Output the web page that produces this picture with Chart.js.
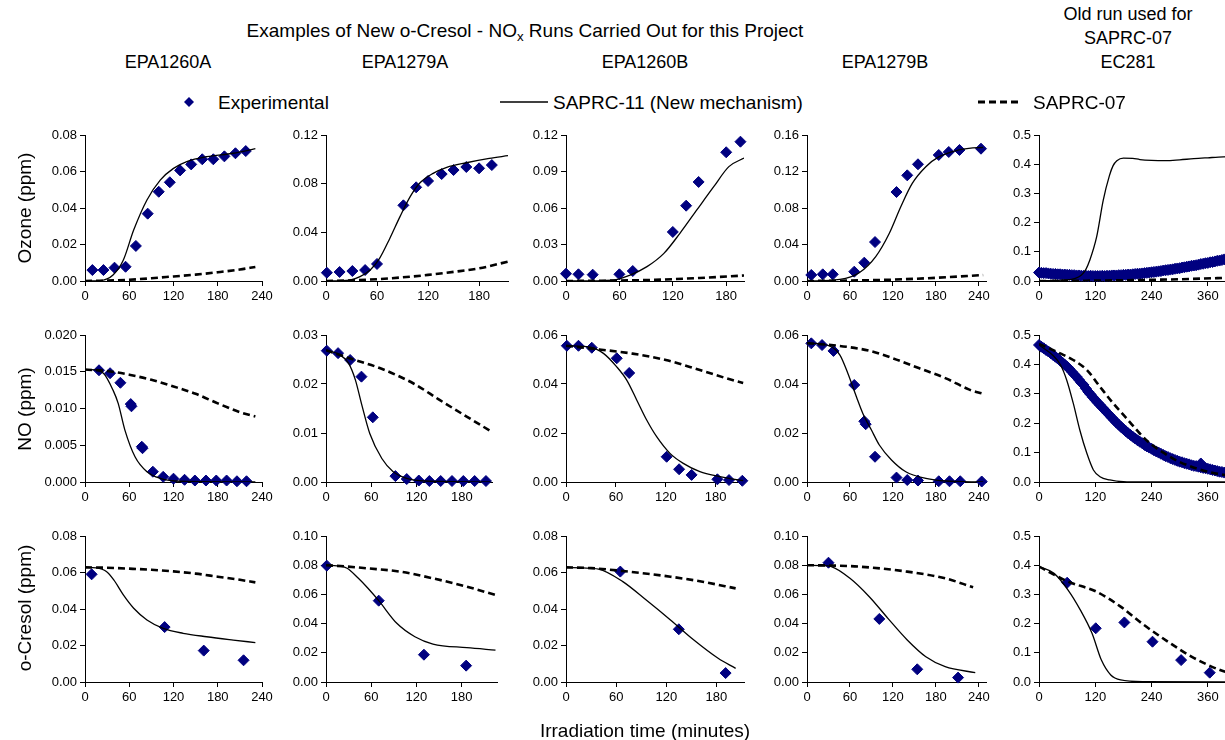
<!DOCTYPE html>
<html>
<head>
<meta charset="utf-8">
<script src="https://cdn.jsdelivr.net/npm/chart.js@4.4.1/dist/chart.umd.min.js"></script>
<style>
  html, body { margin: 0; padding: 0; width: 1225px; height: 740px; overflow: hidden; background: #fff; }
  body { position: relative; font-family: "Liberation Sans", Arial, sans-serif; color: #000; }
  canvas { position: absolute; }
  .t { position: absolute; white-space: nowrap; line-height: 1; }
  .c { transform: translate(-50%, -50%); }
  .l { transform: translate(0, -50%); }
  .v { transform: translate(-50%, -50%) rotate(-90deg); }
  sub { font-size: 70%; vertical-align: -0.25em; }
</style>
</head>
<body>
<svg width="1225" height="740" style="position:absolute;left:0;top:0">
  <polygon points="189,97 194,102 189,107 184,102" fill="#000080" />
  <line x1="500" y1="102" x2="548" y2="102" stroke="#000" stroke-width="1.3" />
  <line x1="978" y1="102" x2="1022" y2="102" stroke="#000" stroke-width="3" stroke-dasharray="7,4" />
</svg>
<script>
// ---- data: [minutes, ppm] ----
// Ozone
const O3_1260A_exp = [[10,.0060],[25,.0060],[40,.0073],[55,.0078],[69,.0192],[85,.0369],[100,.0489],[115,.0541],[129,.0606],[144,.0639],[159,.0667],[174,.0667],[189,.0683],[204,.0700],[218,.0712]];
const O3_1260A_s11 = [[0,0],[20,.0002],[38,.0033],[52,.0115],[66,.0279],[84,.0444],[102,.0553],[120,.0617],[138,.0654],[165,.0681],[201,.0700],[231,.0725]];
const O3_1260A_s07 = [[0,0],[30,.0002],[60,.0007],[90,.0015],[120,.0025],[150,.0035],[180,.0048],[210,.0063],[231,.0077]];

const O3_1279A_exp = [[1,.0068],[16,.0074],[31,.0082],[46,.0090],[60,.0140],[91,.0622],[106,.0770],[120,.0822],[136,.0879],[150,.0912],[165,.0937],[180,.0926],[195,.0953]];
const O3_1279A_s11 = [[0,0],[28,.0008],[40,.0036],[52,.0090],[63,.0186],[75,.0350],[87,.0529],[99,.0693],[110,.0803],[126,.0885],[142,.0934],[165,.0972],[192,.1008],[214,.1030]];
const O3_1279A_s07 = [[0,0],[30,.0005],[60,.0015],[90,.0030],[120,.0050],[150,.0075],[180,.0104],[214,.0159]];

const O3_1260B_exp = [[0,.0060],[14,.0055],[30,.0052],[60,.0055],[75,.0082],[120,.0403],[135,.0619],[149,.0814],[180,.1058],[196,.1145]];
const O3_1260B_s11 = [[0,0],[53,.0008],[72,.0049],[91,.0118],[110,.0227],[128,.0392],[147,.0584],[166,.0775],[183,.0940],[200,.1010]];
const O3_1260B_s07 = [[0,0],[50,.0003],[100,.0010],[150,.0025],[200,.0045]];

const O3_1279B_exp = [[6,.0066],[22,.0073],[36,.0073],[66,.0102],[80,.0201],[95,.0427],[125,.0975],[140,.1158],[155,.1279],[184,.1381],[198,.1414],[213,.1436],[243,.1450]];
const O3_1279B_s11 = [[0,0],[46,.0018],[73,.0091],[96,.0267],[115,.0523],[131,.0814],[147,.1070],[166,.1253],[184,.1360],[212,.1436],[226,.1454],[246,.1465]];
const O3_1279B_s07 = [[0,0],[60,.0005],[120,.0015],[180,.0035],[246,.0065]];

const O3_EC281_exp = [[0,.029],[5,.028],[10,.027],[15,.027],[20,.026],[25,.025],[30,.024],[35,.024],[40,.023],[45,.023],[50,.022],[55,.022],[60,.021],[65,.021],[70,.020],[75,.020],[80,.019],[85,.019],[90,.018],[95,.018],[100,.018],[105,.017],[110,.018],[115,.017],[120,.017],[125,.017],[130,.017],[135,.018],[140,.017],[145,.018],[150,.018],[155,.019],[160,.019],[165,.019],[170,.020],[175,.020],[180,.021],[185,.021],[190,.022],[195,.022],[200,.023],[205,.024],[210,.025],[215,.025],[220,.026],[225,.027],[230,.028],[235,.029],[240,.030],[245,.031],[250,.032],[255,.033],[260,.034],[265,.036],[270,.037],[275,.038],[280,.039],[285,.040],[290,.042],[295,.043],[300,.044],[305,.046],[310,.047],[315,.049],[320,.050],[325,.052],[330,.053],[335,.054],[340,.056],[345,.058],[350,.059],[355,.061],[360,.062],[365,.064],[370,.065],[375,.067],[380,.069],[385,.070],[390,.072],[395,.074],[400,.075],[405,.077],[410,.078],[415,.080]];
const O3_EC281_s11 = [[0,.001],[60,.004],[90,.020],[100,.040],[108,.070],[123,.152],[137,.277],[150,.360],[158,.395],[166,.412],[180,.421],[200,.420],[215,.416],[240,.413],[270,.412],[300,.415],[330,.419],[360,.422],[393,.425],[420,.426]];
const O3_EC281_s07 = [[0,0],[100,.001],[200,.003],[300,.006],[420,.012]];

// NO
const NO_1260A_exp = [[19,.0152],[34,.0148],[48,.0135],[62,.0106],[63,.0103],[77,.0048],[78,.0046],[92,.0014],[106,.0007],[120,.00045],[135,.0003],[149,.0002],[164,.0002],[178,.0002],[192,.0002],[206,.0001],[219,.0001]];
const NO_1260A_s11 = [[0,.0153],[9,.0153],[25,.0148],[38,.0125],[45,.0107],[54,.0071],[68,.0034],[84,.0014],[102,.0005],[130,.0001],[231,0]];
const NO_1260A_s07 = [[0,.0153],[30,.0151],[60,.0146],[90,.0139],[120,.0130],[150,.0120],[180,.0107],[210,.0095],[231,.0089]];

const NO_1279A_exp = [[1,.0268],[16,.0263],[32,.0249],[47,.0215],[62,.0132],[92,.0012],[107,.0006],[123,.0003],[137,.0002],[152,.0002],[167,.0002],[182,.0002],[197,.0002],[212,.0002]];
const NO_1279A_s11 = [[0,.0269],[19,.0259],[30,.0242],[39,.0208],[47,.0160],[58,.0099],[74,.0048],[89,.0021],[107,.00075],[131,.0002],[218,0]];
const NO_1279A_s07 = [[0,.0269],[32,.0252],[72,.0232],[116,.0201],[151,.0167],[187,.0133],[218,.0104]];

const NO_1260B_exp = [[1,.0556],[15,.0556],[31,.0548],[61,.0505],[76,.0445],[121,.0103],[136,.0052],[151,.0029],[182,.0011],[196,.0008],[212,.0005]];
const NO_1260B_s11 = [[0,.0556],[29,.0550],[45,.0525],[61,.0470],[73,.0416],[85,.0335],[97,.0253],[109,.0185],[125,.0117],[141,.0076],[161,.0042],[185,.0022],[196,.0015],[213,.0006]];
const NO_1260B_s07 = [[0,.0556],[40,.0541],[80,.0524],[120,.0498],[160,.0458],[200,.0416],[213,.0404]];

const NO_1279B_exp = [[6,.0566],[21,.0559],[37,.0535],[66,.0396],[80,.0248],[82,.0236],[95,.0103],[125,.0018],[140,.0008],[155,.0006],[184,.0003],[199,.0003],[214,.0003],[244,.0002]];
const NO_1279B_s11 = [[0,.0567],[32,.0555],[46,.0518],[57,.0444],[69,.0348],[78,.0280],[90,.0212],[101,.0151],[118,.0090],[138,.0042],[166,.0015],[194,.0004],[246,0]];
const NO_1279B_s07 = [[0,.0567],[55,.0552],[88,.0535],[120,.0505],[157,.0464],[194,.0423],[226,.0378],[246,.0360]];

const NO_EC281_exp = [[0,.466],[5,.460],[10,.455],[15,.449],[20,.444],[25,.438],[30,.432],[35,.426],[40,.420],[45,.413],[50,.406],[55,.399],[60,.392],[65,.384],[70,.375],[75,.366],[80,.358],[85,.348],[90,.338],[95,.330],[100,.318],[105,.307],[110,.298],[115,.288],[120,.279],[125,.270],[130,.262],[135,.253],[140,.245],[145,.236],[150,.228],[155,.219],[160,.211],[165,.202],[170,.195],[175,.187],[180,.180],[185,.173],[190,.166],[195,.160],[200,.154],[205,.148],[210,.142],[215,.137],[220,.132],[225,.126],[230,.121],[235,.117],[240,.113],[245,.108],[250,.104],[255,.100],[260,.096],[265,.092],[270,.088],[275,.085],[280,.081],[285,.078],[290,.075],[295,.072],[300,.069],[305,.067],[310,.064],[315,.062],[320,.060],[325,.057],[330,.055],[335,.054],[340,.052],[345,.050],[345,.063],[350,.048],[355,.047],[360,.045],[365,.043],[370,.041],[375,.039],[380,.037],[385,.035],[390,.034],[395,.032],[400,.031],[405,.029],[410,.028],[415,.027]];
const NO_EC281_s11 = [[0,.466],[30,.430],[46,.398],[59,.347],[73,.268],[87,.177],[102,.0975],[116,.041],[130,.018],[151,.007],[180,.001],[220,0],[420,0]];
const NO_EC281_s07 = [[0,.470],[45,.4375],[73,.415],[102,.381],[130,.324],[158,.268],[187,.216],[215,.165],[237,.131],[270,.095],[300,.068],[360,.035],[420,.018]];

// o-Cresol
const CR_1260A_exp = [[9,.0590],[108,.0301],[161,.0172],[215,.0119]];
const CR_1260A_s11 = [[0,.0628],[15,.0625],[29,.0605],[39,.0559],[52,.0477],[66,.0404],[84,.0340],[106,.0294],[133,.0267],[165,.0248],[201,.0230],[231,.0216]];
const CR_1260A_s07 = [[0,.0628],[30,.0626],[60,.0621],[90,.0615],[120,.0606],[150,.0594],[180,.0577],[210,.0560],[231,.0546]];

const CR_1279A_exp = [[1,.0797],[70,.0557],[130,.0187],[186,.0112]];
const CR_1279A_s11 = [[0,.0800],[15,.0795],[28,.0779],[43,.0710],[56,.0640],[70,.0557],[94,.0402],[118,.0310],[142,.0260],[187,.0235],[225,.0219]];
const CR_1279A_s07 = [[0,.0800],[25,.0792],[54,.0779],[98,.0756],[142,.0710],[187,.0653],[225,.0596]];

const CR_1260B_exp = [[65,.0605],[135,.0289],[191,.0049]];
const CR_1260B_s11 = [[0,.0628],[20,.0625],[39,.0619],[68,.0550],[96,.0449],[125,.0340],[153,.0230],[182,.0130],[203,.0075]];
const CR_1260B_s07 = [[0,.0628],[30,.0624],[68,.0608],[125,.0577],[165,.0548],[203,.0513]];

const CR_1279B_exp = [[30,.0817],[101,.0432],[154,.0087],[211,.0030]];
const CR_1279B_s11 = [[0,.0799],[20,.0797],[34,.0790],[60,.0710],[87,.0584],[113,.0436],[140,.0288],[166,.0173],[193,.0105],[235,.0064]];
const CR_1279B_s07 = [[0,.0800],[40,.0797],[73,.0790],[140,.0756],[193,.0710],[232,.0649]];

const CR_EC281_exp = [[60,.340],[121,.184],[182,.204],[242,.138],[303,.075],[364,.032]];
const CR_EC281_s11 = [[0,.395],[32,.372],[62,.315],[88,.247],[113,.167],[133,.075],[153,.024],[174,.007],[224,.001],[420,0]];
const CR_EC281_s07 = [[0,.395],[62,.344],[123,.309],[174,.258],[224,.195],[275,.138],[325,.087],[386,.041],[420,.025]];

// ---- layout ----
const FONT = '"Liberation Sans", Arial, sans-serif';
const rows = [{ T: 135, B: 281 }, { T: 335, B: 482 }, { T: 536, B: 682 }];
const PL = 70, PT = 12, PR = 22, PB = 32;

const panels = [
  { r: 0, L: 85,   R: 262,  xmax: 240, xstep: 60,  ymax: 0.08, ystep: 0.02,  dec: 2, s: [O3_1260A_s11, O3_1260A_s07, O3_1260A_exp] },
  { r: 0, L: 326,  R: 508,  xmax: 214, xstep: 60,  ymax: 0.12, ystep: 0.04,  dec: 2, s: [O3_1279A_s11, O3_1279A_s07, O3_1279A_exp] },
  { r: 0, L: 566,  R: 744,  xmax: 200, xstep: 60,  ymax: 0.12, ystep: 0.03,  dec: 2, s: [O3_1260B_s11, O3_1260B_s07, O3_1260B_exp] },
  { r: 0, L: 807,  R: 986,  xmax: 250, xstep: 60,  ymax: 0.16, ystep: 0.04,  dec: 2, s: [O3_1279B_s11, O3_1279B_s07, O3_1279B_exp] },
  { r: 0, L: 1039, R: 1236, xmax: 420, xstep: 120, ymax: 0.5,  ystep: 0.1,   dec: 1, s: [O3_EC281_s11, O3_EC281_s07, O3_EC281_exp] },
  { r: 1, L: 85,   R: 262,  xmax: 240, xstep: 60,  ymax: 0.02, ystep: 0.005, dec: 3, s: [NO_1260A_s11, NO_1260A_s07, NO_1260A_exp] },
  { r: 1, L: 326,  R: 492,  xmax: 220, xstep: 60,  ymax: 0.03, ystep: 0.01,  dec: 2, s: [NO_1279A_s11, NO_1279A_s07, NO_1279A_exp] },
  { r: 1, L: 566,  R: 744,  xmax: 214, xstep: 60,  ymax: 0.06, ystep: 0.02,  dec: 2, s: [NO_1260B_s11, NO_1260B_s07, NO_1260B_exp] },
  { r: 1, L: 807,  R: 986,  xmax: 250, xstep: 60,  ymax: 0.06, ystep: 0.02,  dec: 2, s: [NO_1279B_s11, NO_1279B_s07, NO_1279B_exp] },
  { r: 1, L: 1039, R: 1236, xmax: 420, xstep: 120, ymax: 0.5,  ystep: 0.1,   dec: 1, s: [NO_EC281_s11, NO_EC281_s07, NO_EC281_exp] },
  { r: 2, L: 85,   R: 262,  xmax: 240, xstep: 60,  ymax: 0.08, ystep: 0.02,  dec: 2, s: [CR_1260A_s11, CR_1260A_s07, CR_1260A_exp] },
  { r: 2, L: 326,  R: 497,  xmax: 227, xstep: 60,  ymax: 0.10, ystep: 0.02,  dec: 2, s: [CR_1279A_s11, CR_1279A_s07, CR_1279A_exp] },
  { r: 2, L: 566,  R: 744,  xmax: 213, xstep: 60,  ymax: 0.08, ystep: 0.02,  dec: 2, s: [CR_1260B_s11, CR_1260B_s07, CR_1260B_exp] },
  { r: 2, L: 807,  R: 986,  xmax: 250, xstep: 60,  ymax: 0.10, ystep: 0.02,  dec: 2, s: [CR_1279B_s11, CR_1279B_s07, CR_1279B_exp] },
  { r: 2, L: 1039, R: 1236, xmax: 420, xstep: 120, ymax: 0.5,  ystep: 0.1,   dec: 1, s: [CR_EC281_s11, CR_EC281_s07, CR_EC281_exp] }
];

const toXY = (arr) => arr.map(([x, y]) => ({ x, y }));

function axisOpts(min, max, ticks, fmt, fitFn) {
  return {
    type: 'linear', min, max,
    afterFit: fitFn,
    afterBuildTicks: (s) => { s.ticks = ticks.map((v) => ({ value: v })); },
    grid: { drawOnChartArea: false, drawTicks: true, tickLength: 5, color: '#000', lineWidth: 1 },
    border: { display: true, color: '#000', width: 1 },
    ticks: { font: { family: FONT, size: 13 }, color: '#000', padding: 3, maxRotation: 0, autoSkip: false, callback: fmt }
  };
}

panels.forEach((p) => {
  const row = rows[p.r];
  const w = p.R - p.L + PL + PR;
  const h = row.B - row.T + PT + PB;
  const c = document.createElement('canvas');
  c.width = w; c.height = h;
  c.style.left = (p.L - PL) + 'px';
  c.style.top = (row.T - PT) + 'px';
  c.style.width = w + 'px';
  c.style.height = h + 'px';
  document.body.appendChild(c);

  const xt = [];
  for (let v = 0; v <= p.xmax; v += p.xstep) xt.push(v);
  const yt = [];
  for (let i = 0; i * p.ystep <= p.ymax + 1e-9; i++) yt.push(+(i * p.ystep).toFixed(6));

  new Chart(c, {
    type: 'scatter',
    data: {
      datasets: [
        { data: toXY(p.s[0]), showLine: true, borderColor: '#000', borderWidth: 1.3, pointRadius: 0, cubicInterpolationMode: 'monotone' },
        { data: toXY(p.s[1]), showLine: true, borderColor: '#000', borderWidth: 2.6, borderDash: [7, 4], pointRadius: 0, cubicInterpolationMode: 'monotone' },
        { data: toXY(p.s[2]), showLine: false, pointStyle: 'rectRot', pointRadius: 5.5, backgroundColor: '#000080', borderColor: '#000080', borderWidth: 1, clip: 8 }
      ]
    },
    options: {
      responsive: false,
      animation: false,
      events: [],
      layout: { padding: { left: 0, top: PT, right: PR, bottom: 0 } },
      plugins: { legend: { display: false }, tooltip: { enabled: false } },
      scales: {
        x: axisOpts(0, p.xmax, xt, (v) => String(v), (s) => { s.height = PB; }),
        y: axisOpts(0, p.ymax, yt, (v) => Number(v).toFixed(p.dec), (s) => { s.width = PL; })
      }
    }
  });
});

// ---- text ----
function addText(html, x, y, size, cls) {
  const d = document.createElement('div');
  d.className = 't ' + cls;
  d.style.left = x + 'px';
  d.style.top = y + 'px';
  d.style.fontSize = size + 'px';
  d.innerHTML = html;
  document.body.appendChild(d);
}

addText('Examples of New o-Cresol - NO<sub>x</sub> Runs Carried Out for this Project', 525, 32, 19, 'c');
addText('Old run used for', 1128, 14, 18, 'c');
addText('SAPRC-07', 1128, 38, 18, 'c');
addText('EC281', 1128, 62, 18, 'c');
addText('EPA1260A', 168, 62, 18, 'c');
addText('EPA1279A', 405, 62, 18, 'c');
addText('EPA1260B', 645, 62, 18, 'c');
addText('EPA1279B', 885, 62, 18, 'c');

addText('Experimental', 218, 102, 19, 'l');
addText('SAPRC-11 (New mechanism)', 553, 102, 19, 'l');
addText('SAPRC-07', 1033, 102, 19, 'l');

addText('Ozone (ppm)', 24, 208, 19, 'v');
addText('NO (ppm)', 24, 409, 19, 'v');
addText('o-Cresol (ppm)', 24, 608, 19, 'v');
addText('Irradiation time (minutes)', 645, 730, 19, 'c');
</script>
</body>
</html>
